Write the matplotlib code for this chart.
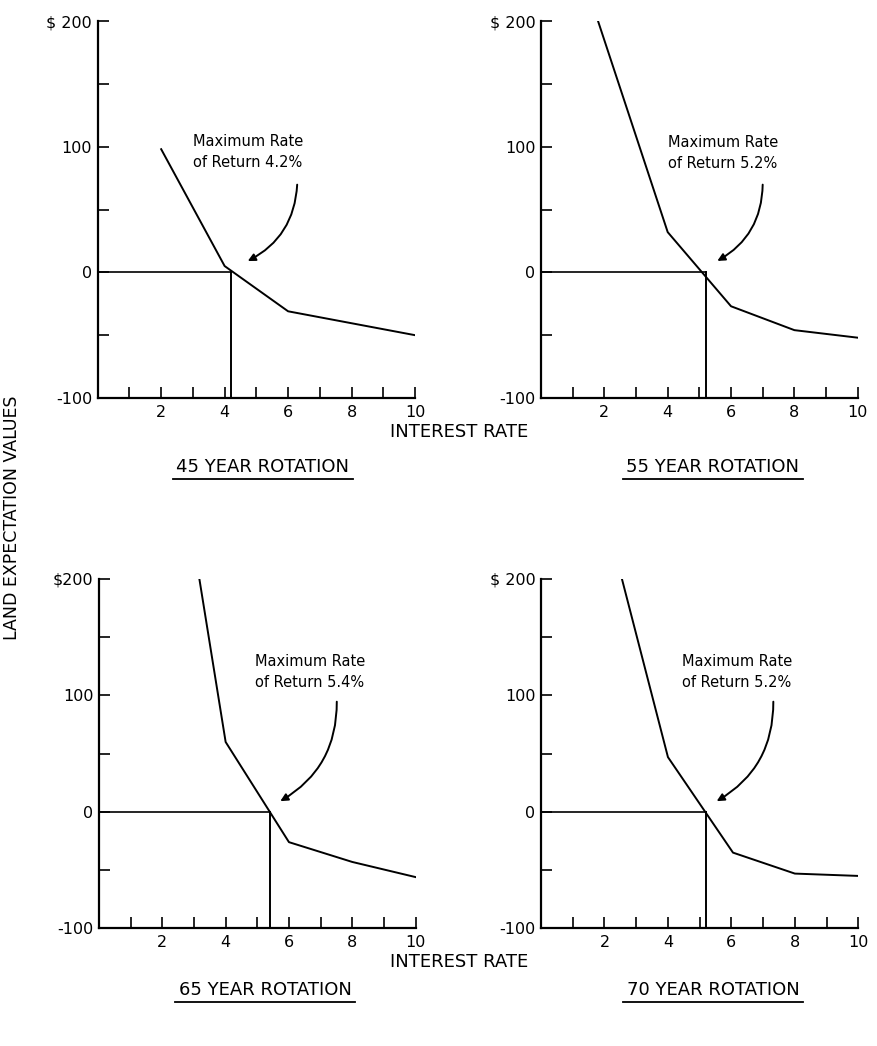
import matplotlib
matplotlib.use("Agg")
import matplotlib.pyplot as plt
from matplotlib.lines import Line2D

# values (interest rate %, land expectation value $)
rate_45 = [2, 4, 6, 10]
lev_45 = [98, 5, -31, -50]
rate_55 = [1.8, 4, 6, 8, 10]
lev_55 = [200, 32, -27, -46, -52]
rate_65 = [3.17, 4, 6, 8, 10]
lev_65 = [200, 60, -26, -43, -56]
rate_70 = [2.55, 4, 6.05, 8, 10]
lev_70 = [200, 47, -35, -53, -55]

titles = ["45 YEAR ROTATION", "55 YEAR ROTATION", "65 YEAR ROTATION", "70 YEAR ROTATION"]
max_rates = [4.2, 5.2, 5.4, 5.2]
top_labels = ["$ 200", "$ 200", "$200", "$ 200"]

plt.rcParams['font.family'] = 'DejaVu Sans'

fig = plt.figure(figsize=(8.78, 10.46), dpi=100)

# axes boxes [left, bottom, width, height] in figure fraction
boxes = [
    [0.1113, 0.6195, 0.3614, 0.3604],
    [0.6162, 0.6195, 0.3607, 0.3604],
    [0.1128, 0.1125, 0.3605, 0.3340],
    [0.6162, 0.1125, 0.3614, 0.3340],
]
# annotation placement (text x, text y, arrow start, arrow end) in data units
notes = [
    (3.0, 96, (6.29, 72), (4.65, 8)),
    (4.0, 95, (7.0, 72), (5.49, 8)),
    (4.93, 120, (7.51, 97), (5.65, 8)),
    (4.45, 120, (7.32, 97), (5.46, 8)),
]
series = [(rate_45, lev_45), (rate_55, lev_55), (rate_65, lev_65), (rate_70, lev_70)]

for i in range(4):
    ax = fig.add_axes(boxes[i])
    x, y = series[i]
    r = max_rates[i]
    ax.plot(x, y, color='black', lw=1.4)
    ax.plot([0, r], [0, 0], color='black', lw=1.2)
    ax.plot([r, r], [0, -100], color='black', lw=1.4)

    ax.set_xlim(0, 10)
    ax.set_ylim(-100, 200)
    ax.spines['top'].set_visible(False)
    ax.spines['right'].set_visible(False)
    ax.spines['left'].set_linewidth(1.6)
    ax.spines['bottom'].set_linewidth(1.6)

    ax.set_xticks(range(1, 11))
    ax.set_xticklabels(['' if k % 2 else str(k) for k in range(1, 11)])
    ax.set_yticks([-100, -50, 0, 50, 100, 150, 200])
    ax.set_yticklabels(['-100', '', '0', '', '100', '', top_labels[i]])
    ax.tick_params(direction='in', length=8, width=1.2, labelsize=11.5)
    ax.tick_params(axis='x', pad=5)
    ax.tick_params(axis='y', pad=4)

    tx, ty, a0, a1 = notes[i]
    ax.text(tx, ty, "Maximum Rate\nof Return %.1f%%" % r, ha='left', va='center',
            fontsize=10.5, linespacing=1.5)
    ax.annotate("", xy=a1, xytext=a0,
                arrowprops=dict(arrowstyle='-|>', color='black', lw=1.4,
                                mutation_scale=11,
                                connectionstyle='arc3,rad=-0.3'))

# shared labels
fig.text(0.523, 1 - 432 / 1046, "INTEREST RATE", ha='center', va='center', fontsize=13)
fig.text(0.523, 1 - 962 / 1046, "INTEREST RATE", ha='center', va='center', fontsize=13)
fig.text(0.014, 0.505, "LAND EXPECTATION VALUES", rotation=90, ha='center', va='center',
         fontsize=12.5)

# underlined panel titles
title_pos = [(263, 467), (713, 467), (265, 990), (713, 990)]
renderer = fig.canvas.get_renderer()
for t, (px, py) in zip(titles, title_pos):
    txt = fig.text(px / 878, 1 - py / 1046, t, ha='center', va='center', fontsize=13)
    bb = txt.get_window_extent(renderer=renderer).transformed(fig.transFigure.inverted())
    yline = bb.y0 - 3 / 1046
    fig.add_artist(Line2D([bb.x0 - 0.004, bb.x1 + 0.004], [yline, yline],
                          transform=fig.transFigure, color='black', lw=1.3))

fig.savefig("out.png", dpi=100)
